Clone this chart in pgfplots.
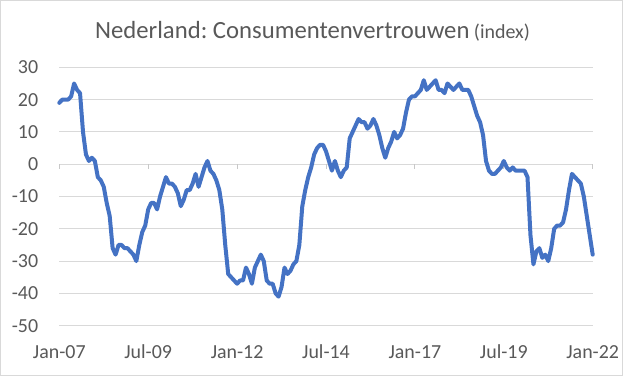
\documentclass[border=0pt]{standalone}
\usepackage{fontspec}
\setmainfont{Carlito}
\usepackage{pgfplots}
\pgfplotsset{compat=1.18}
\definecolor{linecol}{HTML}{4472C4}
\definecolor{gridcol}{HTML}{D9D9D9}
\definecolor{txtcol}{HTML}{595959}
\definecolor{framecol}{HTML}{D9D9D9}
\definecolor{tickcol}{HTML}{C8C8C8}
\frenchspacing
\begin{document}
\begin{tikzpicture}
\useasboundingbox (-59.3bp,-50.3bp) rectangle (565.7bp,325.7bp);
\fill[white] (-59.3bp,-50.3bp) rectangle (565.7bp,325.7bp);
\draw[framecol, line width=1bp] (-58.8bp,-49.8bp) rectangle (562.7bp,325.2bp);
\node[anchor=base, text=txtcol, inner sep=0pt] at (253.2bp,287.4bp)
  {\fontsize{24.8}{29}\selectfont Nederland: Consumentenvertrouwen\fontsize{20}{24}\selectfont{} (index)};
\begin{axis}[
  at={(0,0)}, anchor=south west,
  scale only axis, width=533.4bp, height=258.4bp,
  xmin=0, xmax=180, ymin=-50, ymax=30,
  axis line style={draw=none},
  tick style={draw=none},
  ymajorgrids, xmajorgrids=false, grid style={color=gridcol, line width=1bp},
  xtick={0,30,60,90,120,150,180},
  xticklabels={Jan-07,Jul-09,Jan-12,Jul-14,Jan-17,Jul-19,Jan-22},
  ytick={-50,-40,-30,-20,-10,0,10,20,30},
  yticklabels={-50,-40,-30,-20,-10,0,10,20,30},
  yticklabel style={anchor=east, inner sep=0pt, xshift=-21bp, text=txtcol, font=\fontsize{20}{24}\selectfont},
  xticklabel style={anchor=base, inner sep=0pt, yshift=-33bp, text=txtcol, font=\fontsize{20}{24}\selectfont},
  clip=false,
]
\pgfplotsinvokeforeach{0,30,60,90,120,150,180}{
  \draw[tickcol, line width=1bp] (axis cs:#1,0) -- (axis cs:#1,-1.6);
}
\addplot[color=linecol, line width=4bp, line join=round, line cap=round] table {
m v
0 19
1 20
2 20
3 20
4 21
5 25
6 23
7 22
8 10
9 3
10 1
11 2
12 1
13 -4
14 -5
15 -7
16 -12
17 -16
18 -26
19 -28
20 -25
21 -25
22 -26
23 -26
24 -27
25 -28
26 -30
27 -25
28 -21
29 -19
30 -14
31 -12
32 -12
33 -14
34 -10
35 -7
36 -4
37 -6
38 -6
39 -7
40 -9
41 -13
42 -11
43 -8
44 -8
45 -6
46 -3
47 -7
48 -4
49 -1
50 1
51 -2
52 -3
53 -5
54 -8
55 -14
56 -25
57 -34
58 -35
59 -36
60 -37
61 -36
62 -36
63 -32
64 -34
65 -37
66 -32
67 -30
68 -28
69 -30
70 -36
71 -37
72 -37
73 -40
74 -41
75 -38
76 -32
77 -34
78 -33
79 -31
80 -30
81 -25
82 -13
83 -8
84 -4
85 -1
86 3
87 5
88 6
89 6
90 4
91 1
92 -2
93 1
94 -2
95 -4
96 -2
97 -1
98 8
99 10
100 12
101 14
102 13
103 13
104 11
105 12
106 14
107 12
108 9
109 5
110 2
111 5
112 7
113 10
114 8
115 9
116 11
117 16
118 20
119 21
120 21
121 22
122 23
123 26
124 23
125 24
126 25
127 26
128 23
129 23
130 22
131 25
132 24
133 23
134 24
135 25
136 23
137 23
138 23
139 21
140 18
141 15
142 13
143 9
144 1
145 -2
146 -3
147 -3
148 -2
149 -1
150 1
151 -1
152 -2
153 -1
154 -2
155 -2
156 -2
157 -2
158 -4
159 -22
160 -31
161 -27
162 -26
163 -29
164 -28
165 -30
166 -26
167 -20
168 -19
169 -19
170 -18
171 -14
172 -8
173 -3
174 -4
175 -5
176 -6
177 -10
178 -16
179 -22
180 -28
};
\end{axis}
\end{tikzpicture}
\end{document}
